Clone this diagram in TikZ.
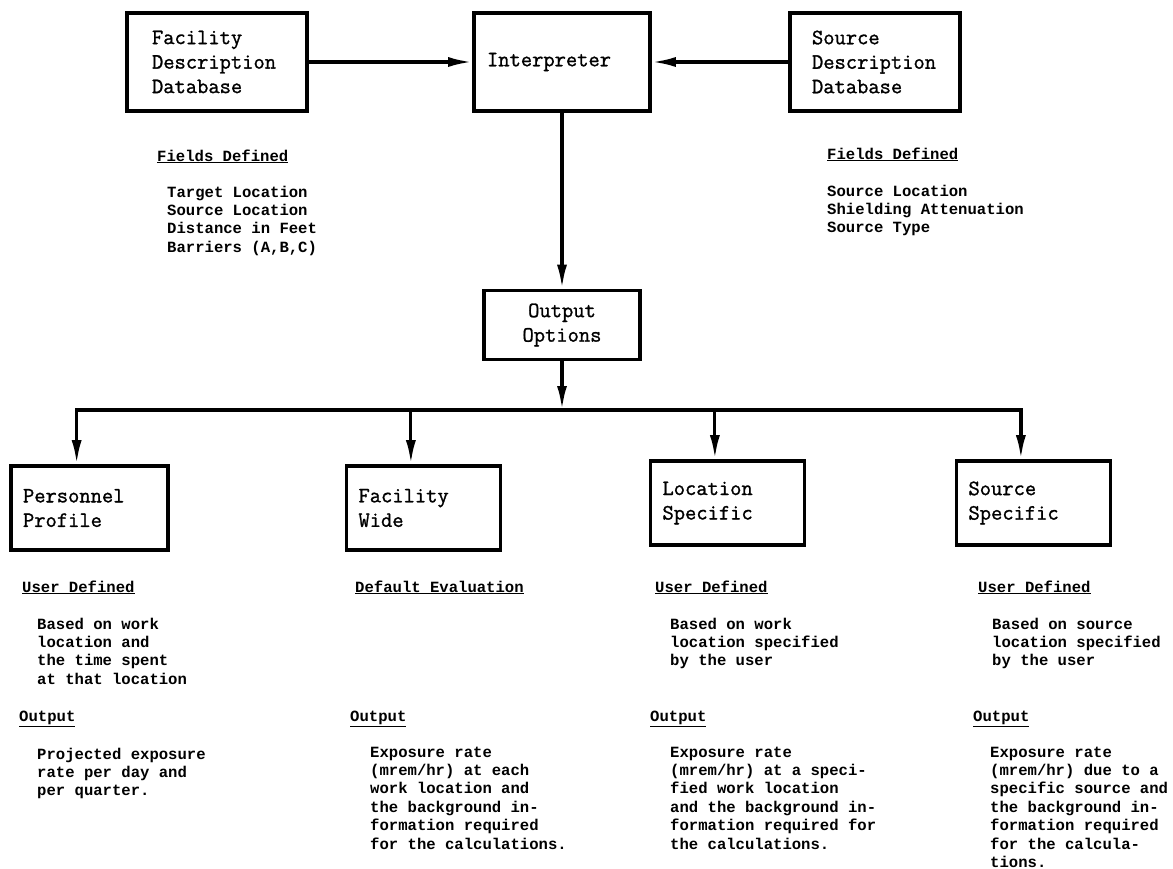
\documentclass[tikz,border=0pt]{standalone}
\usepackage{fontspec}
\newfontfamily\dotfont{Liberation Mono}
\newfontfamily\typefont[FakeBold=1.2]{Latin Modern Mono}
\usetikzlibrary{arrows.meta,calc}
\newcommand\boxfont{\typefont\fontsize{21.9}{24.5}\selectfont}
\newcommand\notefont{\dotfont\bfseries\fontsize{15.6}{18.4}\selectfont}
\tikzset{
  box/.style={draw,line width=3.6pt,align=left,font=\boxfont,inner ysep=0pt},
  topbox/.style={box,minimum height=98pt},
  outbox/.style={box,minimum height=84pt,text width=130pt,inner xsep=12pt},
}
\begin{document}
\begin{tikzpicture}[x=1pt,y=-1pt,
  wire/.style={line width=3.2pt},
  arr/.style={wire,-{Latex[length=24pt,width=10pt]}},
  note/.style={font=\notefont,align=left,anchor=north west,inner sep=0pt}]
\useasboundingbox (0,0) rectangle (1173,869);

% top row
\node[topbox,text width=130pt,inner xsep=25pt] (facility) at (217,62) {Facility\\Description\\Database};
\node[topbox,text width=150pt,inner xsep=13pt] (interp) at (562,62) {Interpreter};
\node[topbox,text width=126pt,inner xsep=22pt] (source) at (875,62) {Source\\Description\\Database};
\draw[arr] (facility) -- (interp);
\draw[arr] (source) -- (interp);

\node[note] (facHead) at (157,148) {\strut\underline{Fields Defined}};
\node[note] (facFields) at (167,184) {\strut Target Location\\Source Location\\Distance in Feet\\Barriers (A,B,C)};
\node[note] (srcHead) at (827,146) {\strut\underline{Fields Defined}};
\node[note] (srcFields) at (827,183) {\strut Source Location\\Shielding Attenuation\\Source Type};

% options and the four outputs
\node[box,align=center,minimum width=156pt,minimum height=69pt] (options) at (562,325) {Output\\Options};
\draw[arr] (interp.south) -- (interp.south |- options.north);

\node[outbox,text width=133pt] (personnel) at (89.5,508) {Personnel\\Profile};
\node[outbox] (facwide) at (423.5,508) {Facility\\Wide};
\node[outbox] (locspec) at (727.5,503) {Location\\Specific};
\node[outbox] (srcspec) at (1033.5,503) {Source\\Specific};

\coordinate (bus) at (562,410);
\draw[arr] (options.south) -- (bus);
\foreach \b in {personnel,facwide,locspec,srcspec}
  \coordinate (\b-in) at ($(\b.north west)!.42!(\b.north east)$);
\draw[arr] (bus) -| (personnel-in);
\draw[arr] (bus) -| (srcspec-in);
\draw[arr] (facwide-in |- bus) -- (facwide-in);
\draw[arr] (locspec-in |- bus) -- (locspec-in);

% notes under the outputs
\node[note] (persHead) at (22,579) {\strut\underline{User Defined}};
\node[note] (persBasis) at (37,616) {\strut Based on work\\location and\\the time spent\\at that location};
\node[note] (persOutHead) at (19,708) {\strut\underline{Output}};
\node[note] (persOut) at (37,746) {\strut Projected exposure\\rate per day and\\per quarter.};

\node[note] (wideHead) at (355,579) {\strut\underline{Default Evaluation}};
\node[note] (wideOutHead) at (350,708) {\strut\underline{Output}};
\node[note] (wideOut) at (370,744) {\strut Exposure rate\\(mrem/hr) at each\\work location and\\the background in-\\formation required\\for the calculations.};

\node[note] (locHead) at (655,579) {\strut\underline{User Defined}};
\node[note] (locBasis) at (670,616) {\strut Based on work\\location specified\\by the user};
\node[note] (locOutHead) at (650,708) {\strut\underline{Output}};
\node[note] (locOut) at (670,744) {\strut Exposure rate\\(mrem/hr) at a speci-\\fied work location\\and the background in-\\formation required for\\the calculations.};

\node[note] (srcsHead) at (978,579) {\strut\underline{User Defined}};
\node[note] (srcsBasis) at (992,616) {\strut Based on source\\location specified\\by the user};
\node[note] (srcsOutHead) at (973,708) {\strut\underline{Output}};
\node[note] (srcsOut) at (990,744) {\strut Exposure rate\\(mrem/hr) due to a\\specific source and\\the background in-\\formation required\\for the calcula-\\tions.};
\end{tikzpicture}
\end{document}
